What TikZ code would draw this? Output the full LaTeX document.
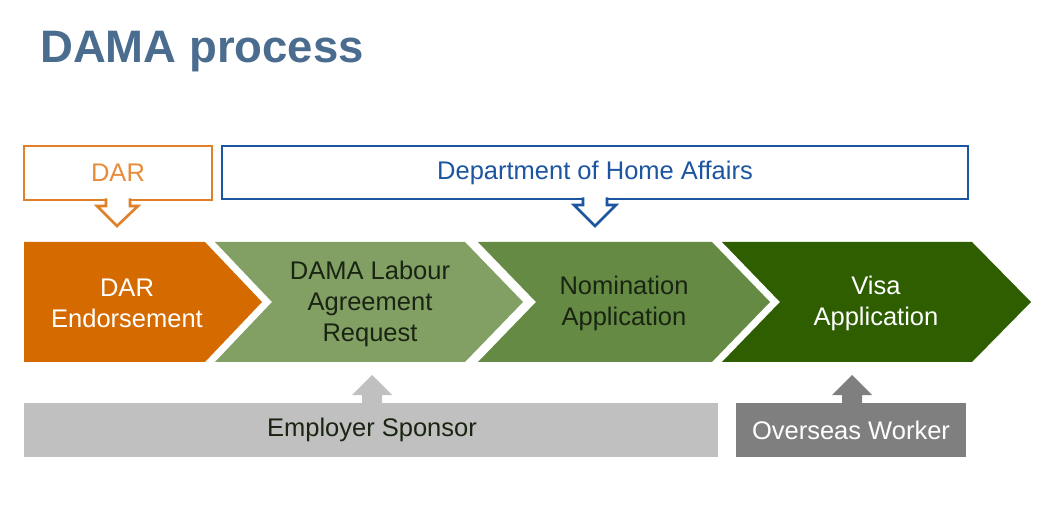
\documentclass[tikz,border=0pt]{standalone}
\usepackage{fontspec}
\setmainfont{Liberation Sans}
\usetikzlibrary{positioning,calc}

\definecolor{titleblue}{RGB}{74,108,142}
\definecolor{darorange}{RGB}{224,128,40}
\definecolor{dartext}{RGB}{232,140,60}
\definecolor{endorseorange}{RGB}{213,107,0}
\definecolor{homeblue}{RGB}{28,86,160}
\definecolor{greenA}{RGB}{130,160,100}
\definecolor{greenB}{RGB}{100,138,68}
\definecolor{greenC}{RGB}{46,94,0}
\definecolor{darktext}{RGB}{26,36,18}
\definecolor{lightgrey}{RGB}{192,192,192}
\definecolor{darkgrey}{RGB}{127,127,127}

\begin{document}
\begin{tikzpicture}[x=1pt,y=-1pt,
  lbl/.style={align=center,inner sep=0pt,font=\fontsize{25.5}{31}\selectfont},
  callout/.style={draw,line width=2.6pt,fill=white,line join=miter},
  uparr/.style={draw=none}]
\useasboundingbox (0,0) rectangle (1050,529);

% title
\node[anchor=base west,inner sep=0pt,text=titleblue,
  font=\fontsize{45.5}{50}\selectfont\bfseries] (title) at (40,63) {DAMA process};

% responsible bodies
\draw[callout,draw=darorange] (24,146) rectangle (212,200);
\filldraw[callout,draw=darorange] (106,198.5) -- (106,206) -- (97,206) -- (117,226)
  -- (138,206) -- (130,206) -- (130,198.5);
\node[lbl,text=dartext] (dar) at (118,173) {DAR};
\draw[callout,draw=homeblue] (222,146) rectangle (968,199);
\filldraw[callout,draw=homeblue] (583,197.5) -- (583,205) -- (574,205) -- (595,226)
  -- (616,205) -- (607,205) -- (607,197.5);
\node[lbl,text=homeblue] (dha) at (595,173) {Department of Home Affairs};

% process steps
\fill[endorseorange] (24,242) -- (205,242) -- (262,302) -- (205,362) -- (24,362) -- cycle;
\fill[greenA] (215,242) -- (465,242) -- (523,302) -- (465,362) -- (215,362) -- (272,302) -- cycle;
\fill[greenB] (478,242) -- (712,242) -- (770,302) -- (712,362) -- (478,362) -- (536,302) -- cycle;
\fill[greenC] (722,242) -- (972,242) -- (1031,302) -- (972,362) -- (722,362) -- (780,302) -- cycle;
\node[lbl,text=white] (endorse) at (127,303) {DAR\\Endorsement};
\node[lbl,text=darktext] (request) at (370,304) {DAMA Labour\\Agreement\\Request};
\node[lbl,text=darktext] (nominate) at (624,303) {Nomination\\Application};
\node[lbl,text=white] (visa) at (876,303) {Visa\\Application};

% parties
\fill[lightgrey] (24,403) rectangle (718,457);
\fill[lightgrey] (362,404) -- (362,395) -- (352,395) -- (372,375) -- (392,395) -- (382,395) -- (382,404) -- cycle;
\node[lbl,text=darktext] (sponsor) at (372,430) {Employer Sponsor};
\fill[darkgrey] (736,403) rectangle (966,457);
\fill[darkgrey] (842,404) -- (842,395) -- (832,395) -- (852,375) -- (872,395) -- (862,395) -- (862,404) -- cycle;
\node[lbl,text=white] (worker) at (851,430) {Overseas Worker};
\end{tikzpicture}
\end{document}
